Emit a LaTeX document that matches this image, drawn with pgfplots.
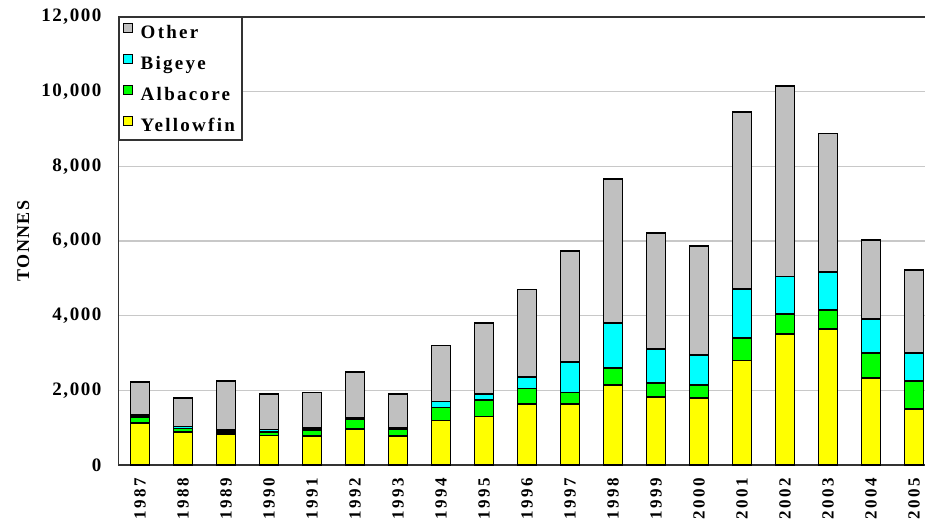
\documentclass[border=0pt]{standalone}
\usepackage{fontspec}
\setmainfont{Liberation Serif}[LetterSpace=8]
\usepackage{pgfplots}
\pgfplotsset{compat=1.18}
\definecolor{cYel}{HTML}{FFFF00}
\definecolor{cAlb}{HTML}{00FF00}
\definecolor{cBig}{HTML}{00FFFF}
\definecolor{cOth}{HTML}{C0C0C0}
\definecolor{cGrid}{HTML}{C8C8C8}
\begin{document}
\begin{tikzpicture}
\begin{axis}[
  scale only axis, width=806.5pt, height=448pt,
  ybar stacked, bar width=19pt,
  xmin=-0.5, xmax=18.256, ymin=0, ymax=12000,
  xtick={0,...,18},
  xticklabels={1987,1988,1989,1990,1991,1992,1993,1994,1995,1996,1997,1998,1999,2000,2001,2002,2003,2004,2005},
  ytick={0,2000,4000,6000,8000,10000,12000},
  major tick length=0pt,
  axis x line*=box, axis y line*=left,
  axis line style={draw=black!80, line width=1.5pt},
  ymajorgrids, grid style={draw=cGrid, line width=1.5pt},
  scaled y ticks=false,
  yticklabel style={/pgf/number format/assume math mode=true, /pgf/number format/1000 sep={,},
    font=\fontsize{19}{19}\selectfont\bfseries, anchor=east, inner sep=0pt},
  yticklabel shift=17pt,
  xticklabel style={font=\fontsize{17}{17}\selectfont\bfseries\addfontfeature{LetterSpace=14},
    rotate=90, anchor=east, inner sep=0pt},
  xticklabel shift=13pt,
  ylabel={TONNES},
  ylabel style={font=\fontsize{18}{18}\selectfont\bfseries, inner sep=0pt},
  ylabel shift=12pt,
  every axis plot/.append style={draw=black, line width=1.8pt},
  legend image code/.code={\draw[#1, line width=1.2pt] (0pt,1.5pt) rectangle (9pt,10.5pt);\path[draw=none,fill=none] (14pt,1.5pt);},
  reverse legend,
  legend cell align=left,
  legend style={at={(0,1)}, anchor=north west, draw=black!80, line width=1.2pt, fill=white,
    inner xsep=4pt, inner ysep=5pt, row sep=12pt,
    font=\fontsize{19}{19}\selectfont\bfseries\addfontfeature{LetterSpace=12},
    nodes={inner ysep=0pt, inner xsep=3pt, text height=13pt, text depth=3pt}},
]
\addplot[fill=cYel] coordinates {(0,1130) (1,880) (2,820) (3,790) (4,780) (5,970) (6,780) (7,1190) (8,1300) (9,1640) (10,1640) (11,2150) (12,1830) (13,1800) (14,2800) (15,3500) (16,3650) (17,2330) (18,1490)};
\addplot[fill=cAlb] coordinates {(0,150) (1,100) (2,60) (3,90) (4,160) (5,250) (6,170) (7,350) (8,450) (9,410) (10,300) (11,450) (12,370) (13,350) (14,600) (15,550) (16,510) (17,660) (18,760)};
\addplot[fill=cBig] coordinates {(0,70) (1,50) (2,50) (3,70) (4,50) (5,30) (6,50) (7,160) (8,150) (9,300) (10,810) (11,1200) (12,900) (13,800) (14,1310) (15,1000) (16,1000) (17,910) (18,760)};
\addplot[fill=cOth] coordinates {(0,880) (1,760) (2,1320) (3,950) (4,950) (5,1250) (6,900) (7,1500) (8,1900) (9,2350) (10,2980) (11,3850) (12,3120) (13,2920) (14,4740) (15,5100) (16,3720) (17,2130) (18,2220)};
\legend{Yellowfin,Albacore,Bigeye,Other}
\end{axis}
\pgfresetboundingbox
\path ([shift={(-118.5pt,-62pt)}]current axis.south west) rectangle ([shift={(0pt,17pt)}]current axis.north east);
\end{tikzpicture}
\end{document}
